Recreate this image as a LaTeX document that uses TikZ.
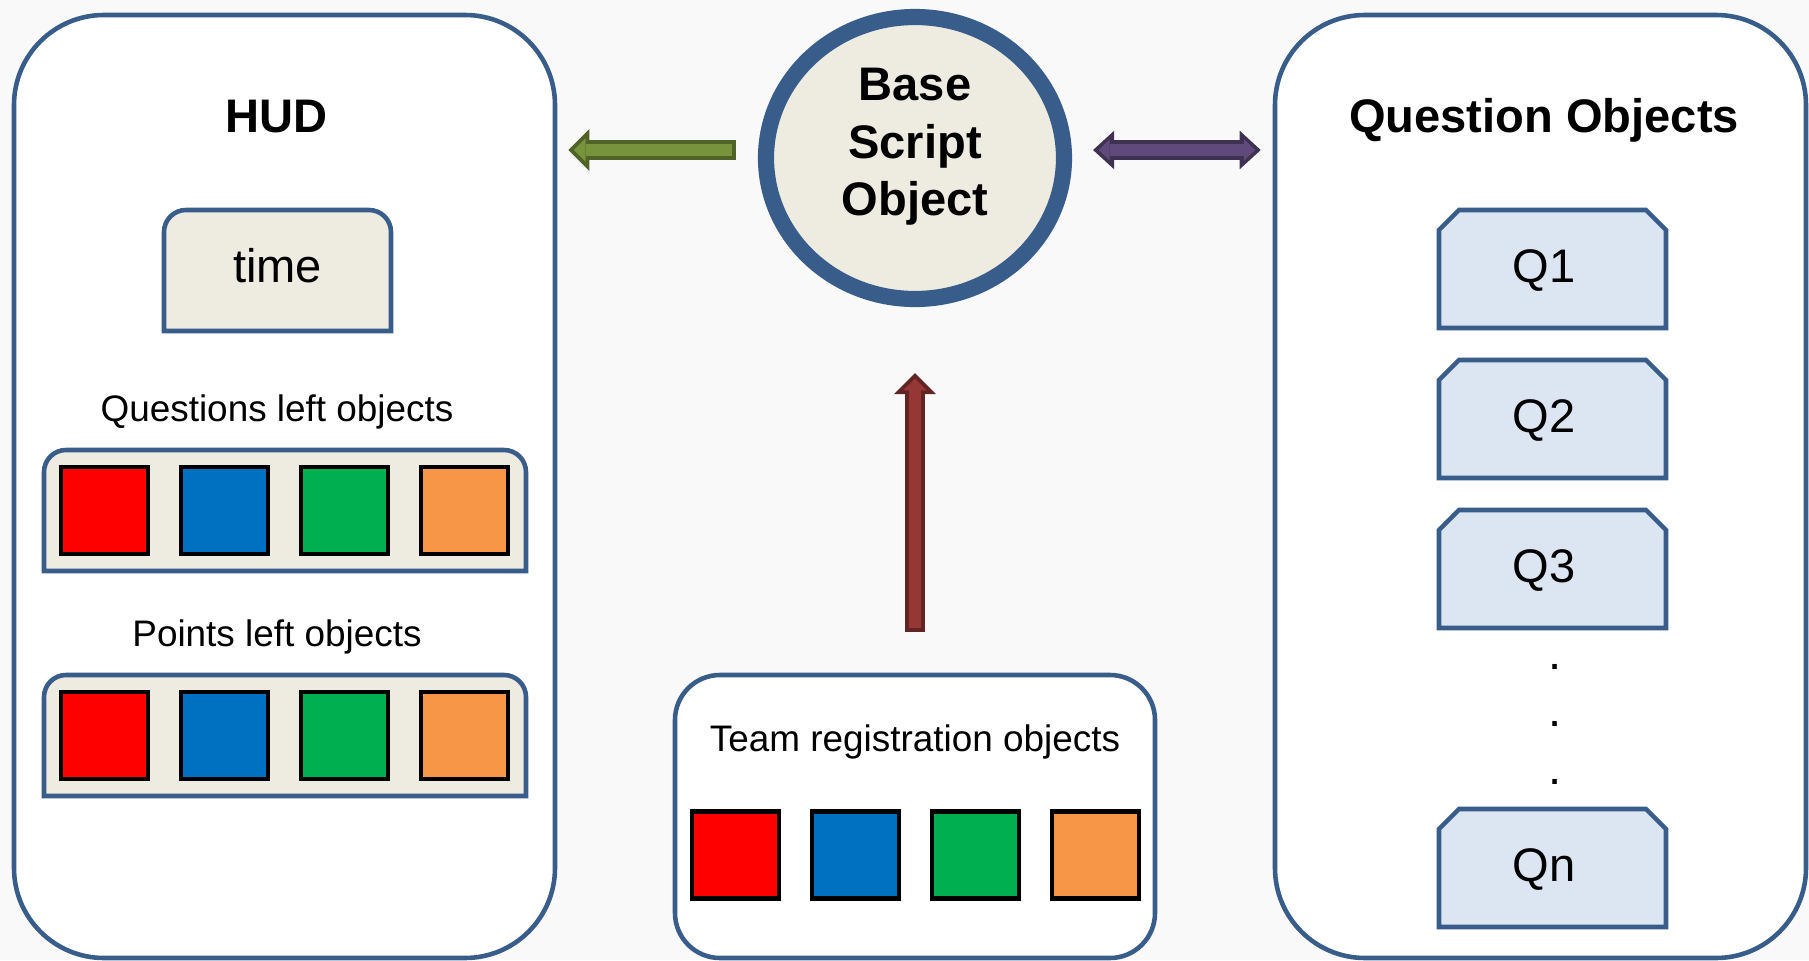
\documentclass[tikz,border=0pt]{standalone}
\usepackage{fontspec}
\setmainfont{Liberation Sans}
\usetikzlibrary{arrows.meta,positioning,shapes.geometric,calc}

\definecolor{frameblue}{RGB}{56,93,138}
\definecolor{cream}{RGB}{238,236,225}
\definecolor{qfill}{RGB}{220,230,242}
\definecolor{sqred}{RGB}{255,0,0}
\definecolor{sqblue}{RGB}{0,112,192}
\definecolor{sqgreen}{RGB}{0,176,80}
\definecolor{sqorange}{RGB}{247,150,70}
\definecolor{greenfill}{RGB}{119,147,60}
\definecolor{greenline}{RGB}{79,98,40}
\definecolor{purplefill}{RGB}{96,74,123}
\definecolor{purpleline}{RGB}{63,49,81}
\definecolor{redfill}{RGB}{149,55,53}
\definecolor{redline}{RGB}{99,37,35}
\definecolor{pagegray}{RGB}{249,249,249}

% panel with rounded top corners only
\newcommand{\toppanel}[4]{%
  \draw[panel] (#1,#2) -- (#1,#4-0.22) arc[start angle=180,end angle=90,radius=0.22]
    -- (#3-0.22,#4) arc[start angle=90,end angle=0,radius=0.22] -- (#3,#2) -- cycle;}

\tikzset{
  bigbox/.style={draw=frameblue, line width=1.3pt, fill=white, inner sep=0pt},
  panel/.style={draw=frameblue, line width=1.3pt, fill=cream},
  qpanel/.style={draw=frameblue, line width=1.3pt, fill=qfill},
  sq/.style={draw=black, line width=1.4pt, minimum size=0.87cm, inner sep=0pt},
  headtxt/.style={font=\fontsize{13.4}{16.4}\selectfont\bfseries, anchor=base},
  bigtxt/.style={font=\fontsize{13.4}{16.4}\selectfont, anchor=base},
  smalltxt/.style={font=\fontsize{10.5}{12.6}\selectfont, anchor=base},
  blockarrow/.style 2 args={draw=#1, line width=5.7pt,
    -{Triangle[width=12pt,length=6pt,line width=0pt]},
    postaction={draw=#2, line width=3.4pt, shorten <=1.1pt, shorten >=1.6pt,
      -{Triangle[width=6.6pt,length=3.3pt,line width=0pt]}}},
  dblockarrow/.style 2 args={draw=#1, line width=5.7pt,
    {Triangle[width=11pt,length=6pt,line width=0pt]}-{Triangle[width=11pt,length=6pt,line width=0pt]},
    postaction={draw=#2, line width=3.4pt, shorten <=1.6pt, shorten >=1.6pt,
      {Triangle[width=6pt,length=3.1pt,line width=0pt]}-{Triangle[width=6pt,length=3.1pt,line width=0pt]}}}
}

\begin{document}
\begin{tikzpicture}

  \useasboundingbox (0,0) rectangle (18.09,9.60);
  \fill[pagegray] (0,0) rectangle (18.09,9.60);

  % Containers

  \node[bigbox, rounded corners=0.9cm, minimum width=5.41cm, minimum height=9.43cm] (hud) at (2.845,4.735) {};
  \node[bigbox, rounded corners=0.9cm, minimum width=5.31cm, minimum height=9.43cm] (qobj) at (15.405,4.735) {};
  \node[bigbox, rounded corners=0.45cm, minimum width=4.80cm, minimum height=2.83cm] (team) at (9.15,1.435) {};

  \node[ellipse, draw=frameblue, line width=4.6pt, fill=cream, minimum width=2.98cm,
        minimum height=2.82cm, inner sep=0pt] (base) at (9.15,8.02) {};
  \node[headtxt, align=center, anchor=center] (basetxt) at (9.15,8.13) {Base\\Script\\Object};

  % HUD

  \node[headtxt] (hudtitle) at (2.77,8.28) {HUD};
  \toppanel{1.64}{6.29}{3.91}{7.50}
  \node[bigtxt] (time) at (2.775,6.78) {time};

  \node[smalltxt] (qleft) at (2.77,5.39) {Questions left objects};
  \toppanel{0.44}{3.89}{5.26}{5.10}
  \node[smalltxt] (pleft) at (2.77,3.14) {Points left objects};
  \toppanel{0.44}{1.64}{5.26}{2.85}

  \foreach \c [count=\i] in {sqred,sqblue,sqgreen,sqorange}{
    \node[sq, fill=\c] (ql\i) at (\i*1.2-0.155,4.495) {};
    \node[sq, fill=\c] (pl\i) at (\i*1.2-0.155,2.245) {};
    \node[sq, fill=\c] (tr\i) at (\i*1.2+6.155,1.05) {};
  }

  % Question objects

  \node[headtxt] (qtitle) at (15.44,8.28) {Question Objects};
  \foreach \y/\q in {6.91/Q1,5.41/Q2,3.91/Q3,0.92/Qn}{
    \draw[qpanel] (14.39,\y-0.59) -- (14.39,\y+0.39) -- (14.59,\y+0.59) -- (16.46,\y+0.59)
      -- (16.66,\y+0.39) -- (16.66,\y-0.59) -- cycle;
    \node[bigtxt] (\q) at (15.44,\y-0.13) {\q};
  }
  \foreach \y [count=\i] in {2.91,2.34,1.76}
    \node[bigtxt] (dot\i) at (15.55,\y) {.};

  % Team registration

  \node[smalltxt] (teamtxt) at (9.15,2.09) {Team registration objects};

  % Arrows

  \coordinate (gend) at (hud.east |- base.west);
  \coordinate (pend) at (qobj.west |- base.east);
  \draw[blockarrow={greenline}{greenfill}] ($(base.west)+(-0.22,0.08)$) -- ($(gend)+(0.11,0.08)$);
  \draw[dblockarrow={purpleline}{purplefill}] ($(base.east)+(0.21,0.08)$) -- ($(pend)+(-0.12,0.08)$);
  \draw[blockarrow={redline}{redfill}] ($(team.north)+(0,0.41)$) -- ($(base.south)+(0,-0.66)$);

\end{tikzpicture}
\end{document}
